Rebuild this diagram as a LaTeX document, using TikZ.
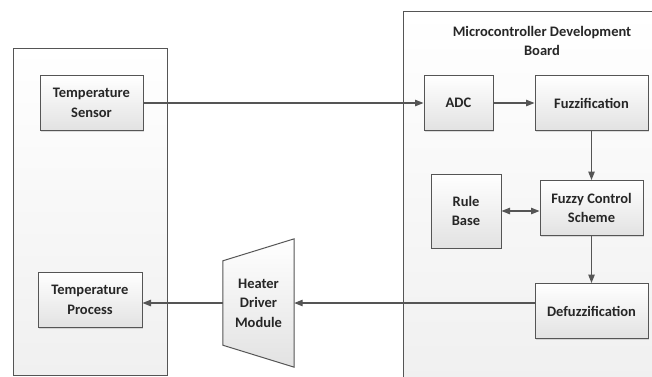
\documentclass[tikz,border=0pt]{standalone}
\usepackage{fontspec}
\setmainfont{Carlito}
\usetikzlibrary{arrows.meta,positioning,calc,shadows,backgrounds}
\definecolor{edgegray}{HTML}{555555}
\definecolor{boxgray}{HTML}{E2E2E2}
\definecolor{panelgray}{HTML}{F0F0F0}
\definecolor{textgray}{HTML}{262626}

\begin{document}
\begin{tikzpicture}[
    x=1pt, y=-1pt,
    font=\fontsize{14.5}{19.5}\selectfont\bfseries,
    text=textgray,
    panel/.style={rectangle, draw=edgegray, line width=1pt, top color=white, bottom color=panelgray},
    block/.style={rectangle, draw=edgegray, line width=1pt, top color=white, bottom color=boxgray, align=center, minimum height=55pt, inner sep=2pt, drop shadow={shadow xshift=1.2pt, shadow yshift=-1.2pt, fill=black, opacity=0.12}},
    arrow/.style={-{Triangle[length=8.5pt,width=6.5pt]}, draw=edgegray, line width=1.1pt}
]
    \useasboundingbox (0,0) rectangle (652,376);

    % Panels
    \node[panel, minimum width=154pt, minimum height=327pt] (plant) at (90,211.5) {};
    \node[panel, minimum width=260pt, minimum height=372pt] (board) at (533,197) {};
    \node[align=center] (title) at (542,41) {Microcontroller Development\\Board};

    % Nodes
    \node[block, minimum width=103pt] (sensor) at (91.5,103) {Temperature\\Sensor};
    \node[block, minimum width=104pt] (process) at (90,300) {Temperature\\Process};
    \node[block, minimum width=69pt] (adc) at (458.5,103) {ADC};
    \node[block, minimum width=113pt, right=41pt of adc] (fuzz) {Fuzzification};
    \node[block, minimum width=103pt, below=49pt of fuzz] (ctrl) {Fuzzy Control\\Scheme};
    \node[block, minimum width=70pt, minimum height=74pt] (rules) at (466,211) {Rule\\Base};
    \node[block, minimum width=113pt, below=47pt of ctrl] (defuzz) {Defuzzification};
    \node[minimum width=71pt, minimum height=128pt, align=center] (heater) at (258.5,303) {Heater\\Driver\\Module};
    \begin{scope}[on background layer]
        \draw[edgegray, line width=1pt, top color=white, bottom color=boxgray]
            ([yshift=-22pt]heater.north west) -- (heater.north east)
            -- (heater.south east) -- ([yshift=22pt]heater.south west) -- cycle;
    \end{scope}

    % Arrows
    \draw[arrow] (sensor) -- (adc);
    \draw[arrow] (adc) -- (fuzz);
    \draw[arrow] (fuzz) -- (ctrl);
    \draw[arrow] (ctrl) -- (defuzz);
    \draw[arrow, {Triangle[length=8.5pt,width=6.5pt]}-{Triangle[length=8.5pt,width=6.5pt]}] (rules.east) -- (rules.east -| ctrl.west);
    \draw[arrow] (defuzz.west |- heater) -- (heater.east);
    \draw[arrow] (heater.west) -- (heater.west -| process.east);
\end{tikzpicture}
\end{document}
